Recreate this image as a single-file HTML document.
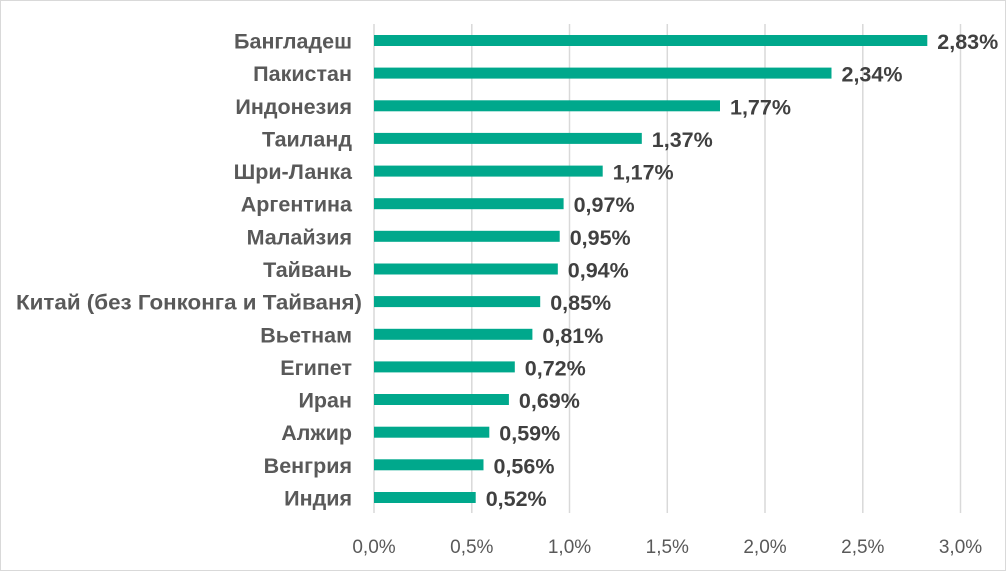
<!DOCTYPE html><html><head><meta charset="utf-8"><style>
body{margin:0;background:#fff}
svg{display:block}
text{font-family:"Liberation Sans",sans-serif}
</style></head><body>
<svg width="1006" height="571" xmlns="http://www.w3.org/2000/svg">
<rect x="0.5" y="0.5" width="1005" height="570" fill="#fff" stroke="#d9d9d9"/>
<g stroke="#d9d9d9" stroke-width="1.5">
<line x1="374" y1="24" x2="374" y2="513"/><line x1="471.8" y1="24" x2="471.8" y2="513"/><line x1="569.5" y1="24" x2="569.5" y2="513"/><line x1="667.3" y1="24" x2="667.3" y2="513"/><line x1="765" y1="24" x2="765" y2="513"/><line x1="862.8" y1="24" x2="862.8" y2="513"/><line x1="960.5" y1="24" x2="960.5" y2="513"/>
</g>
<g font-size="19" fill="#595959" text-anchor="middle">
<text x="374" y="553">0,0%</text><text x="471.8" y="553">0,5%</text><text x="569.5" y="553">1,0%</text><text x="667.3" y="553">1,5%</text><text x="765" y="553">2,0%</text><text x="862.8" y="553">2,5%</text><text x="960.5" y="553">3,0%</text>
</g>
<g fill="#00a88c">
<rect x="374" y="35" width="553.3" height="11"/>
<rect x="374" y="67.6" width="457.5" height="11"/>
<rect x="374" y="100.3" width="346" height="11"/>
<rect x="374" y="132.9" width="267.8" height="11"/>
<rect x="374" y="165.6" width="228.7" height="11"/>
<rect x="374" y="198.2" width="189.6" height="11"/>
<rect x="374" y="230.8" width="185.7" height="11"/>
<rect x="374" y="263.5" width="183.8" height="11"/>
<rect x="374" y="296.1" width="166.2" height="11"/>
<rect x="374" y="328.8" width="158.4" height="11"/>
<rect x="374" y="361.4" width="140.8" height="11"/>
<rect x="374" y="394" width="134.9" height="11"/>
<rect x="374" y="426.7" width="115.3" height="11"/>
<rect x="374" y="459.3" width="109.5" height="11"/>
<rect x="374" y="492" width="101.7" height="11"/>
</g>
<g font-size="21.5" font-weight="bold" fill="#595959" text-anchor="end">
<text x="352" y="48.5">Бангладеш</text>
<text x="352" y="81.1">Пакистан</text>
<text x="352" y="113.8">Индонезия</text>
<text x="352" y="146.4">Таиланд</text>
<text x="352" y="179.1">Шри-Ланка</text>
<text x="352" y="211.7">Аргентина</text>
<text x="352" y="244.3">Малайзия</text>
<text x="352" y="277">Тайвань</text>
<text x="362" y="309.6" textLength="346" lengthAdjust="spacingAndGlyphs">Китай (без Гонконга и Тайваня)</text>
<text x="352" y="342.3">Вьетнам</text>
<text x="352" y="374.9">Египет</text>
<text x="352" y="407.5">Иран</text>
<text x="352" y="440.2">Алжир</text>
<text x="352" y="472.8">Венгрия</text>
<text x="352" y="505.5">Индия</text>
</g>
<g font-size="21.5" font-weight="bold" fill="#404040">
<text x="937.3" y="49">2,83%</text>
<text x="841.5" y="81.6">2,34%</text>
<text x="730" y="114.3">1,77%</text>
<text x="651.8" y="146.9">1,37%</text>
<text x="612.7" y="179.6">1,17%</text>
<text x="573.6" y="212.2">0,97%</text>
<text x="569.7" y="244.8">0,95%</text>
<text x="567.8" y="277.5">0,94%</text>
<text x="550.2" y="310.1">0,85%</text>
<text x="542.4" y="342.8">0,81%</text>
<text x="524.8" y="375.4">0,72%</text>
<text x="518.9" y="408">0,69%</text>
<text x="499.3" y="440.7">0,59%</text>
<text x="493.5" y="473.3">0,56%</text>
<text x="485.7" y="506">0,52%</text>
</g>
</svg>
</body></html>
